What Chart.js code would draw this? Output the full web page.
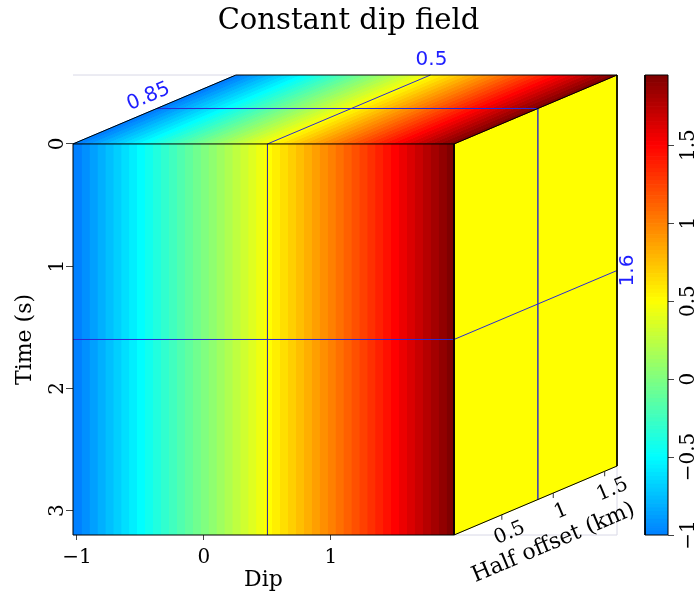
<!DOCTYPE html>
<html>
<head>
<meta charset="utf-8">
<script src="https://cdn.jsdelivr.net/npm/chart.js@4.4.1/dist/chart.umd.min.js"></script>
<style>
  html, body { margin: 0; padding: 0; background: #fff; }
  #wrap { width: 697px; height: 603px; }
</style>
</head>
<body>
<div id="wrap"><canvas id="cube"></canvas></div>
<script>
// dip axis sampling (origin, step, count) - the field value equals the dip
const dipOrigin = -1;
const dipStep = 0.0625;
const dipCount = 48;
const timeRange = [0, 3.2];
const offsetRange = [0.035, 1.62];

// slices shown on the three faces
const sliceDip = 0.5;
const sliceTime = 1.6;
const sliceOffset = 0.85;

const dipTicks = [-1, 0, 1];
const timeTicks = [0, 1, 2, 3];
const offsetTicks = [0.5, 1, 1.5];
const colorTicks = [-1, -0.5, 0, 0.5, 1, 1.5];
const colorRange = [-1, 1.95];
const colorStep = 0.025;

// jet-like palette
const paletteValues = [-1, -0.5, 0.5, 1.5, 1.9375];
const paletteColors = [[0, 128, 255], [0, 255, 255], [255, 255, 0], [255, 0, 0], [128, 0, 0]];

// how the offset axis is sheared into the picture, in dip / time units
const depthDip = 1.2835;
const depthTime = -0.5642;
// where the colour bar sits along the dip scale
const cbarDip = [3.473, 3.6537];

const dipMin = dipOrigin - dipStep / 2;
const dipMax = dipOrigin + (dipCount - 0.5) * dipStep;
const tTop = timeRange[0], tBot = timeRange[1];

function colorOf(v) {
    if (v <= paletteValues[0]) return 'rgb(' + paletteColors[0].join(',') + ')';
    for (let i = 1; i < paletteValues.length; i++) {
        if (v <= paletteValues[i]) {
            const f = (v - paletteValues[i - 1]) / (paletteValues[i] - paletteValues[i - 1]);
            const c = paletteColors[i - 1].map((a, k) => Math.round(a + f * (paletteColors[i][k] - a)));
            return 'rgb(' + c.join(',') + ')';
        }
    }
    return 'rgb(' + paletteColors[paletteColors.length - 1].join(',') + ')';
}

function fmt(v) {
    return v < 0 ? '\u2212' + (-v) : String(v);
}

function shear(o) {
    return (o - offsetRange[0]) / (offsetRange[1] - offsetRange[0]);
}

function poly(points, color, order, axis) {
    return {
        data: [...points, points[0]],
        borderColor: color,
        backgroundColor: color,
        borderWidth: 1,
        fill: 'shape',
        pointRadius: 0,
        order: order,
        yAxisID: axis || 'y'
    };
}

function line(points, color, order, axis) {
    return {
        data: points,
        borderColor: color,
        borderWidth: 1,
        fill: false,
        pointRadius: 0,
        order: order,
        clip: false,
        yAxisID: axis || 'y'
    };
}

const datasets = [];

// front face (time x dip) and top face (offset x dip)
for (let i = 0; i < dipCount; i++) {
    const v = dipOrigin + i * dipStep;
    const d0 = v - dipStep / 2, d1 = v + dipStep / 2;
    const c = colorOf(v);
    datasets.push(poly([{x: d0, y: tTop}, {x: d1, y: tTop}, {x: d1, y: tBot}, {x: d0, y: tBot}], c, 3));
    datasets.push(poly([{x: d0, y: tTop}, {x: d1, y: tTop},
        {x: d1 + depthDip, y: tTop + depthTime}, {x: d0 + depthDip, y: tTop + depthTime}], c, 3));
}

// side face (time x offset) at the dip slice
datasets.push(poly([{x: dipMax, y: tTop}, {x: dipMax + depthDip, y: tTop + depthTime},
    {x: dipMax + depthDip, y: tBot + depthTime}, {x: dipMax, y: tBot}], colorOf(sliceDip), 3));

// colour bar
for (let v = colorRange[0]; v < colorRange[1] - 1e-9; v += colorStep) {
    const v1 = Math.min(v + colorStep, colorRange[1]);
    datasets.push(poly([{x: cbarDip[0], y: v}, {x: cbarDip[1], y: v}, {x: cbarDip[1], y: v1}, {x: cbarDip[0], y: v1}],
        colorOf((v + v1) / 2), 3, 'y2'));
}

// slice lines
const blue = '#2a2ad6';
const fo = shear(sliceOffset);
datasets.push(line([{x: sliceDip, y: tTop}, {x: sliceDip, y: tBot}], '#34349a', 1));
datasets.push(line([{x: dipMin, y: sliceTime}, {x: dipMax, y: sliceTime}], blue, 1));
datasets.push(line([{x: sliceDip, y: tTop}, {x: sliceDip + depthDip, y: tTop + depthTime}], blue, 1));
datasets.push(line([{x: dipMin + fo * depthDip, y: tTop + fo * depthTime}, {x: dipMax + fo * depthDip, y: tTop + fo * depthTime}], blue, 1));
datasets.push(line([{x: dipMax, y: sliceTime}, {x: dipMax + depthDip, y: sliceTime + depthTime}], blue, 1));
datasets.push(line([{x: dipMax + fo * depthDip, y: tTop + fo * depthTime}, {x: dipMax + fo * depthDip, y: tBot + fo * depthTime}], '#4a4aa8', 1));

// faint frame round the whole box
const faint = '#d8d8e6';
datasets.push(line([{x: dipMin, y: tTop + depthTime}, {x: dipMin + depthDip, y: tTop + depthTime}], faint, 2));
datasets.push(line([{x: dipMax, y: tBot}, {x: dipMax + depthDip, y: tBot}, {x: dipMax + depthDip, y: tBot + depthTime}], faint, 2));

// outlines
datasets.push(line([{x: dipMin, y: tTop}, {x: dipMax, y: tTop}, {x: dipMax, y: tBot}, {x: dipMin, y: tBot}, {x: dipMin, y: tTop}], '#000', 0));
datasets.push(line([{x: dipMin, y: tTop}, {x: dipMin + depthDip, y: tTop + depthTime}, {x: dipMax + depthDip, y: tTop + depthTime},
    {x: dipMax + depthDip, y: tBot + depthTime}, {x: dipMax, y: tBot}], '#000', 0));
datasets.push(line([{x: dipMax, y: tTop}, {x: dipMax + depthDip, y: tTop + depthTime}], '#000', 0));
datasets.push(line([{x: cbarDip[0], y: colorRange[0]}, {x: cbarDip[1], y: colorRange[0]}, {x: cbarDip[1], y: colorRange[1]},
    {x: cbarDip[0], y: colorRange[1]}, {x: cbarDip[0], y: colorRange[0]}], '#000', 0, 'y2'));

const cubeLabels = {
    id: 'cubeLabels',
    afterDraw(chart) {
        const {ctx, scales: {x, y}} = chart;
        const px = (d, t) => ({x: x.getPixelForValue(d), y: y.getPixelForValue(t)});
        ctx.save();

        // offset axis along the lower edge of the side face
        const e0 = px(dipMax, tBot);
        const e1 = px(dipMax + depthDip, tBot + depthTime);
        const ang = Math.atan2(e1.y - e0.y, e1.x - e0.x);
        const nx = -Math.sin(ang), ny = Math.cos(ang);
        ctx.strokeStyle = '#333';
        ctx.lineWidth = 1;
        ctx.fillStyle = '#000';
        ctx.textAlign = 'center';
        ctx.textBaseline = 'middle';
        ctx.font = '20px "DejaVu Serif"';
        offsetTicks.forEach(o => {
            const f = shear(o);
            const p = px(dipMax + f * depthDip, tBot + f * depthTime);
            ctx.beginPath();
            ctx.moveTo(p.x, p.y);
            ctx.lineTo(p.x, p.y + 5);
            ctx.stroke();
            ctx.save();
            ctx.translate(p.x + nx * 20, p.y + ny * 20);
            ctx.rotate(ang);
            ctx.fillText(fmt(o), 0, 0);
            ctx.restore();
        });

        ctx.font = '22px "DejaVu Serif"';
        const m = px(dipMax + depthDip / 2, tBot + depthTime / 2);
        ctx.save();
        ctx.translate(m.x + nx * 46, m.y + ny * 46);
        ctx.rotate(ang);
        ctx.fillText('Half offset (km)', 0, 0);
        ctx.restore();

        ctx.fillText('Dip', px((dipMin + dipMax) / 2, 0).x, 580);
        ctx.save();
        ctx.translate(25, y.getPixelForValue((tTop + tBot) / 2));
        ctx.rotate(-Math.PI / 2);
        ctx.fillText('Time (s)', 0, 0);
        ctx.restore();

        // slice positions
        ctx.fillStyle = '#1e1eff';
        ctx.font = '20px "DejaVu Sans"';
        const fo = shear(sliceOffset);
        const a = px(dipMin + fo * depthDip, tTop + fo * depthTime);
        ctx.save();
        ctx.translate(a.x + Math.cos(ang) * -3 - nx * 14, a.y + Math.sin(ang) * -3 - ny * 14);
        ctx.rotate(ang);
        ctx.fillText(String(sliceOffset), 0, 0);
        ctx.restore();

        const b = px(sliceDip + depthDip, tTop + depthTime);
        ctx.fillText(String(sliceDip), b.x + 1, b.y - 15);

        const c = px(dipMax + depthDip, sliceTime + depthTime);
        ctx.save();
        ctx.translate(c.x + 11, c.y);
        ctx.rotate(-Math.PI / 2);
        ctx.fillText(String(sliceTime), 0, 0);
        ctx.restore();

        ctx.restore();
    }
};

const tickFont = {family: 'DejaVu Serif', size: 20};

new Chart(document.getElementById('cube'), {
    type: 'line',
    data: {datasets: datasets},
    options: {
        responsive: true,
        maintainAspectRatio: false,
        animation: false,
        events: [],
        layout: {padding: 0},
        plugins: {
            legend: {display: false},
            tooltip: {enabled: false},
            title: {
                display: true,
                text: 'Constant dip field',
                color: '#000',
                font: {family: 'DejaVu Serif', size: 29, weight: 'normal'},
                padding: {top: 4, bottom: 36.2}
            }
        },
        scales: {
            x: {
                type: 'linear',
                min: dipMin,
                max: cbarDip[1],
                afterBuildTicks: s => { s.ticks = dipTicks.map(v => ({value: v})); },
                afterFit: s => { s.height = 68; },
                border: {display: false},
                grid: {drawOnChartArea: false, tickLength: 5, color: '#444'},
                ticks: {font: tickFont, color: '#000', padding: 5.5, maxRotation: 0, autoSkip: false, callback: v => fmt(v)}
            },
            y: {
                type: 'linear',
                position: 'left',
                reverse: true,
                min: tTop + depthTime,
                max: tBot,
                afterBuildTicks: s => { s.ticks = timeTicks.map(v => ({value: v})); },
                afterFit: s => { s.width = 73; },
                border: {display: false},
                grid: {drawOnChartArea: false, tickLength: 7, color: '#444'},
                ticks: {font: tickFont, color: '#000', padding: 2, minRotation: 90, maxRotation: 90,
                        crossAlign: 'center', autoSkip: false, callback: v => fmt(v)}
            },
            y2: {
                type: 'linear',
                position: 'right',
                min: colorRange[0],
                max: colorRange[1],
                afterBuildTicks: s => { s.ticks = colorTicks.map(v => ({value: v})); },
                afterFit: s => { s.width = 29; },
                border: {display: false},
                grid: {drawOnChartArea: false, tickLength: 6, color: '#444'},
                ticks: {font: tickFont, color: '#000', padding: -9, minRotation: 90, maxRotation: 90,
                        crossAlign: 'center', autoSkip: false, callback: v => fmt(v)}
            }
        }
    },
    plugins: [cubeLabels]
});
</script>
</body>
</html>
